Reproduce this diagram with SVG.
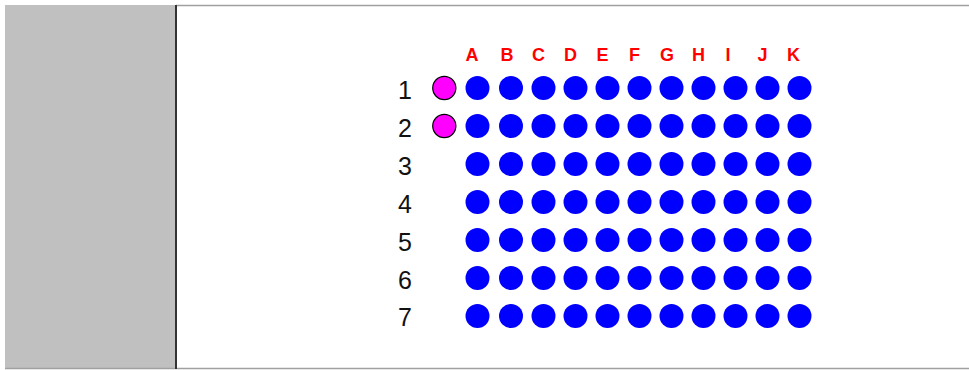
<svg xmlns="http://www.w3.org/2000/svg" width="969" height="370" viewBox="0 0 969 370">
<style>
.col{font-family:"Liberation Sans",Arial,sans-serif;font-weight:bold;font-size:18px;fill:#ff0000;text-anchor:middle}
.row{font-family:"Liberation Sans",Arial,sans-serif;font-size:25px;fill:#111;text-anchor:middle}
.b{fill:#0000ff}
.m{fill:#ff00ff;stroke:#000;stroke-width:1.2}
</style>
<rect x="0" y="0" width="969" height="370" fill="#fff"/>
<rect id="panel" x="5" y="5" width="171" height="363" fill="#c0c0c0"/>
<line x1="176" y1="5.5" x2="969" y2="5.5" stroke="#a0a0a0" stroke-width="1.5"/>
<line x1="5" y1="368.5" x2="969" y2="368.5" stroke="#a0a0a0" stroke-width="1.5"/>
<line x1="176" y1="5" x2="176" y2="369" stroke="#333" stroke-width="2"/>
<g id="colLabels">
<text class="col" x="472" y="61">A</text>
<text class="col" x="507" y="61">B</text>
<text class="col" x="538.5" y="61">C</text>
<text class="col" x="570.5" y="61">D</text>
<text class="col" x="602.5" y="61">E</text>
<text class="col" x="634.5" y="61">F</text>
<text class="col" x="667" y="61">G</text>
<text class="col" x="698.5" y="61">H</text>
<text class="col" x="728" y="61">I</text>
<text class="col" x="762.5" y="61">J</text>
<text class="col" x="793.5" y="61">K</text>
</g>
<g id="rowLabels">
<text class="row" x="405" y="99">1</text>
<text class="row" x="405" y="137">2</text>
<text class="row" x="405" y="175">3</text>
<text class="row" x="405" y="213">4</text>
<text class="row" x="405" y="251">5</text>
<text class="row" x="405" y="289">6</text>
<text class="row" x="405" y="326">7</text>
</g>
<g id="markers">
<circle class="m" cx="444.3" cy="88" r="11.6"/>
<circle class="m" cx="444.3" cy="126" r="11.6"/>
</g>
<defs><circle id="d" r="12"/></defs>
<g id="wells" class="b">
<g transform="translate(0,88)"><use href="#d" x="477.5"/><use href="#d" x="511"/><use href="#d" x="543.5"/><use href="#d" x="575.5"/><use href="#d" x="607.5"/><use href="#d" x="639.5"/><use href="#d" x="671.5"/><use href="#d" x="703.5"/><use href="#d" x="735.5"/><use href="#d" x="767.5"/><use href="#d" x="799.5"/></g>
<g transform="translate(0,126)"><use href="#d" x="477.5"/><use href="#d" x="511"/><use href="#d" x="543.5"/><use href="#d" x="575.5"/><use href="#d" x="607.5"/><use href="#d" x="639.5"/><use href="#d" x="671.5"/><use href="#d" x="703.5"/><use href="#d" x="735.5"/><use href="#d" x="767.5"/><use href="#d" x="799.5"/></g>
<g transform="translate(0,164)"><use href="#d" x="477.5"/><use href="#d" x="511"/><use href="#d" x="543.5"/><use href="#d" x="575.5"/><use href="#d" x="607.5"/><use href="#d" x="639.5"/><use href="#d" x="671.5"/><use href="#d" x="703.5"/><use href="#d" x="735.5"/><use href="#d" x="767.5"/><use href="#d" x="799.5"/></g>
<g transform="translate(0,202)"><use href="#d" x="477.5"/><use href="#d" x="511"/><use href="#d" x="543.5"/><use href="#d" x="575.5"/><use href="#d" x="607.5"/><use href="#d" x="639.5"/><use href="#d" x="671.5"/><use href="#d" x="703.5"/><use href="#d" x="735.5"/><use href="#d" x="767.5"/><use href="#d" x="799.5"/></g>
<g transform="translate(0,240)"><use href="#d" x="477.5"/><use href="#d" x="511"/><use href="#d" x="543.5"/><use href="#d" x="575.5"/><use href="#d" x="607.5"/><use href="#d" x="639.5"/><use href="#d" x="671.5"/><use href="#d" x="703.5"/><use href="#d" x="735.5"/><use href="#d" x="767.5"/><use href="#d" x="799.5"/></g>
<g transform="translate(0,278)"><use href="#d" x="477.5"/><use href="#d" x="511"/><use href="#d" x="543.5"/><use href="#d" x="575.5"/><use href="#d" x="607.5"/><use href="#d" x="639.5"/><use href="#d" x="671.5"/><use href="#d" x="703.5"/><use href="#d" x="735.5"/><use href="#d" x="767.5"/><use href="#d" x="799.5"/></g>
<g transform="translate(0,316)"><use href="#d" x="477.5"/><use href="#d" x="511"/><use href="#d" x="543.5"/><use href="#d" x="575.5"/><use href="#d" x="607.5"/><use href="#d" x="639.5"/><use href="#d" x="671.5"/><use href="#d" x="703.5"/><use href="#d" x="735.5"/><use href="#d" x="767.5"/><use href="#d" x="799.5"/></g>
</g>
</svg>
